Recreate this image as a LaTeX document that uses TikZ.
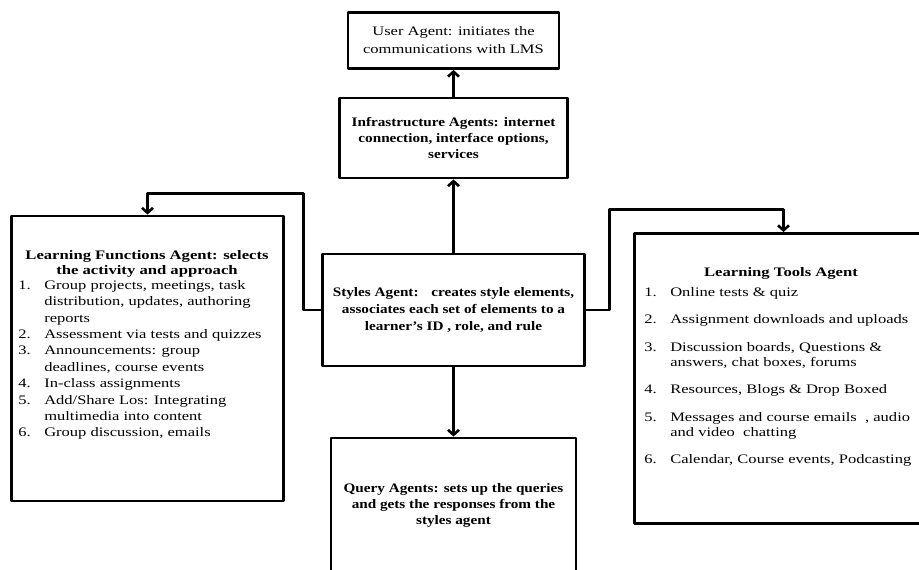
\documentclass[tikz,border=0pt]{standalone}
\usepackage{fontspec}
\setmainfont{Liberation Serif}[UprightFeatures={FakeStretch=1.27}, BoldFeatures={FakeStretch=1.17}]
\newfontfamily\titlefont{Liberation Serif}[FakeStretch=1.28]
\usetikzlibrary{arrows.meta}
\newcommand{\agentfont}{\fontsize{13}{16}\selectfont}
\newcommand{\itm}[1]{\makebox[26pt][l]{#1.}}
\newcommand{\cnt}{\hspace*{26pt}}
\tikzset{
	agentbox/.style={draw, line width=2.8pt, inner sep=2pt, align=center, font=\agentfont\bfseries},
	listbox/.style={draw, line width=2.8pt},
	listtitle/.style={inner sep=0pt, align=center, font=\fontsize{13}{15.5}\titlefont\bfseries\selectfont},
	listtext/.style={inner sep=0pt, align=left, anchor=north west}
}
\begin{document}
\begin{tikzpicture}[x=1pt, y=-1pt, >={Straight Barb[length=5pt,width=11pt]}, line width=2.6pt, line join=round]
	\useasboundingbox[fill=white] (0,0) rectangle (919,570);
	\def\xm{453.5} % cot giua
	% cot giua
	\node[agentbox, font=\fontsize{13}{18}\selectfont, minimum width=211pt, minimum height=56pt] (user) at (\xm,40.5) {User Agent: initiates the\\communications with LMS};
	\node[agentbox, minimum width=228pt, minimum height=80pt] (infra) at (\xm,138) {Infrastructure Agents: internet\\connection, interface options,\\services};
	\node[agentbox, font=\fontsize{13}{17}\bfseries\selectfont, minimum width=262pt, minimum height=112pt] (sa) at (\xm,310) {Styles Agent:~~ creates style elements,\\associates each set of elements to a\\learner’s ID , role, and rule};
	\node[agentbox, minimum width=245pt, minimum height=134pt] (qa) at (\xm,505) {Query Agents: sets up the queries\\and gets the responses from the\\styles agent};
	% hop trai
	\node[listbox, minimum width=272pt, minimum height=285pt] (lf) at (147.5,358.5) {};
	\node[listtitle] (lftitle) at (147,264) {Learning Functions Agent: selects\\the activity and approach};
	\node[listtext, font=\fontsize{13}{16.4}\selectfont] (lflist) at (17,279) {\itm{1}Group projects, meetings, task\\
		\cnt distribution, updates, authoring\\
		\cnt reports\\
		\itm{2}Assessment via tests and quizzes\\
		\itm{3}Announcements: group\\
		\cnt deadlines, course events\\
		\itm{4}In-class assignments\\
		\itm{5}Add/Share Los: Integrating\\
		\cnt multimedia into content\\
		\itm{6}Group discussion, emails};
	% hop phai
	\node[listbox, minimum width=298pt, minimum height=290pt] (lt) at (783.5,378.5) {};
	\node[listtitle] (lttitle) at (781,273) {Learning Tools Agent};
	\node[listtext, font=\fontsize{13}{15}\selectfont] (ltlist) at (643,286) {\itm{1}Online tests \& quiz\\[12.5pt]
		\itm{2}Assignment downloads and uploads\\[12.5pt]
		\itm{3}Discussion boards, Questions \&\\
		\cnt answers, chat boxes, forums\\[12.5pt]
		\itm{4}Resources, Blogs \& Drop Boxed\\[12.5pt]
		\itm{5}Messages and course emails~ , audio\\
		\cnt and video~ chatting\\[12.5pt]
		\itm{6}Calendar, Course events, Podcasting};
	% mui ten
	\coordinate (lbend) at (303.5,193.5);
	\coordinate (rbend) at (609.5,209.5);
	\draw[->] (sa) -- (infra);
	\draw[->] (infra) -- (user);
	\draw[->] (sa) -- (qa);
	\draw[->] (sa.west) -| (lbend) -| (lf.north);
	\draw[->] (sa.east) -| (rbend) -| (lt.north);
\end{tikzpicture}
\end{document}
